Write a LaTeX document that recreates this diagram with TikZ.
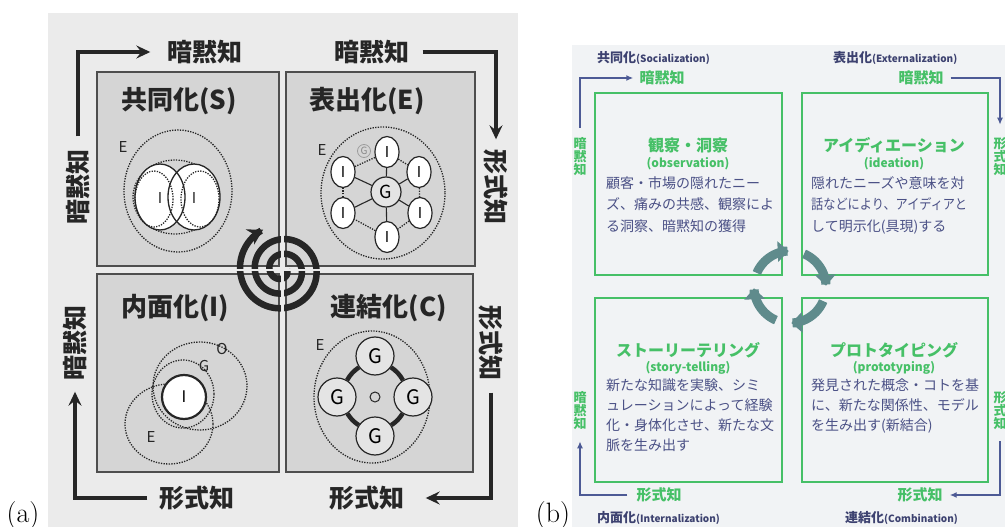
\documentclass[tikz,border=0pt]{standalone}
\usepackage{fontspec}
\newfontfamily\cjk{Noto Sans CJK JP}
\usetikzlibrary{arrows.meta,shapes.geometric}
\definecolor{pagegray}{HTML}{EBEBEB}
\definecolor{boxgray}{HTML}{D5D5D5}
\definecolor{boxline}{HTML}{4E4E4E}
\definecolor{ink}{HTML}{262626}
\definecolor{lightg}{HTML}{E4E4E4}
\definecolor{bpage}{HTML}{F1F3F5}
\definecolor{grn}{HTML}{46C067}
\definecolor{navy}{HTML}{4D5A95}
\definecolor{darknavy}{HTML}{3D4270}
\definecolor{navytext}{HTML}{4B5186}
\definecolor{tealc}{HTML}{5F8B8C}
\tikzset{
 qbox/.style={draw=boxline, line width=1.4pt, fill=boxgray, inner sep=0pt, outer sep=0pt, anchor=north west},
 qtitle/.style={font=\cjk\bfseries\fontsize{26}{28}\selectfont, text=ink, inner sep=0pt},
 klab/.style={font=\cjk\bfseries\fontsize{25}{28}\selectfont, text=ink, inner sep=1pt},
 arrA/.style={draw=ink, line width=3.2pt, line join=miter, -{Stealth[length=14pt,width=13pt,inset=5pt]}},
 dotc/.style={draw=ink, line width=1.3pt, dash pattern=on 1.3pt off 1.3pt},
 solidc/.style={draw=ink, line width=1.3pt},
 small/.style={font=\cjk\fontsize{15}{16}\selectfont, text=ink, inner sep=0pt},
 inode/.style={ellipse, draw=ink, line width=1.2pt, fill=white, minimum width=24pt, minimum height=31pt, inner sep=0pt, font=\cjk\fontsize{15}{16}\selectfont},
 gnode/.style={circle, draw=ink, line width=1.2pt, fill=lightg, minimum size=30pt, inner sep=0pt, font=\cjk\fontsize{18}{18}\selectfont},
 gcnode/.style={circle, draw=ink, line width=1.2pt, fill=lightg, minimum size=38pt, inner sep=0pt, font=\cjk\fontsize{20}{20}\selectfont},
 gbox/.style={draw=grn, line width=2pt, inner sep=0pt, outer sep=0pt, anchor=north west},
 gtitle/.style={font=\cjk\bfseries\fontsize{16}{18}\selectfont, text=grn, inner sep=0pt},
 gsub/.style={font=\cjk\bfseries\fontsize{12}{14}\selectfont, text=grn, inner sep=0pt},
 gbody/.style={font=\cjk\fontsize{14}{21.5}\selectfont, text=navytext, align=left, anchor=north west, inner sep=0pt},
 gbodyb/.style={font=\cjk\fontsize{14}{20}\selectfont, text=navytext, align=left, anchor=north west, inner sep=0pt},
 glab/.style={font=\cjk\bfseries\fontsize{15}{16}\selectfont, text=grn, inner sep=1pt},
 gvert/.style={font=\cjk\bfseries\fontsize{13}{13}\selectfont, text=grn, align=center, inner sep=1pt},
 arrB/.style={draw=navy, line width=2pt, line join=miter, -{Latex[length=7pt,width=6pt]}},
 clab/.style={text=darknavy, inner sep=0pt, anchor=west},
 carr/.style={draw=tealc, line width=9pt, -{Triangle[length=11pt,width=20pt]}},
 plab/.style={font=\fontsize{28}{30}\selectfont, text=black, inner sep=0pt}
}
\begin{document}
\begin{tikzpicture}[x=1pt,y=-1pt]
\useasboundingbox (0,0) rectangle (1005,527);
\fill[white] (0,0) rectangle (1005,527);

% ================= panel (a) =================
\fill[pagegray] (48,13) rectangle (518,527);
\node[qbox, minimum width=182pt, minimum height=194pt] (qS) at (97,72) {};
\node[qbox, minimum width=189pt, minimum height=194pt] (qE) at (286,72) {};
\node[qbox, minimum width=182pt, minimum height=198pt] (qI) at (97,274) {};
\node[qbox, minimum width=187pt, minimum height=198pt] (qC) at (286,274) {};

\node[qtitle] (tS) at (179,101) {共同化(S)};
\node[qtitle] (tE) at (367,101) {表出化(E)};
\node[qtitle] (tI) at (175,308) {内面化(I)};
\node[qtitle] (tC) at (389,308) {連結化(C)};

% --- S: socialization
\draw[dotc] (178,191) ellipse [x radius=54, y radius=61];
\draw[dotc] (175,197) ellipse [x radius=42, y radius=37];
\fill[white] (160,197) ellipse [x radius=25, y radius=33];
\fill[white] (194,197) ellipse [x radius=26, y radius=33];
\draw[solidc] (160,197) ellipse [x radius=25, y radius=33];
\draw[solidc] (194,197) ellipse [x radius=26, y radius=33];
\draw[dotc] (154,199) ellipse [x radius=19, y radius=28];
\draw[dotc] (200,199) ellipse [x radius=19, y radius=28];
\node[small] (sE) at (123,147) {E};
\node[small] (sI1) at (160,198) {I};
\node[small] (sI2) at (194,198) {I};

% --- E: externalization
\draw[dotc] (383,193) ellipse [x radius=62, y radius=66];
\node[gnode] (eG) at (386,192) {G};
\node[inode] (eI1) at (387,152) {I};
\node[inode] (eI2) at (419,172) {I};
\node[inode] (eI3) at (420,213) {I};
\node[inode] (eI4) at (387,237) {I};
\node[inode] (eI5) at (343,213) {I};
\node[inode] (eI6) at (343,172) {I};
\foreach \k in {1,...,6} \draw[solidc, line width=1.1pt] (eG) -- (eI\k);
\draw[dotc] (eI1) -- (eI2); \draw[dotc] (eI2) -- (eI3); \draw[dotc] (eI3) -- (eI4);
\draw[dotc] (eI4) -- (eI5); \draw[dotc] (eI5) -- (eI6); \draw[dotc] (eI6) -- (eI1);
\node[small] (eE) at (322,150) {E};
\node[circle, draw=ink!45, line width=0.8pt, minimum size=13pt, inner sep=0pt, font=\cjk\fontsize{10}{10}\selectfont, text=ink!55] (eg) at (364,151) {G};

% --- I: internalization
\draw[dotc] (200,386) ellipse [x radius=47, y radius=44];
\draw[dotc] (169,424) ellipse [x radius=44, y radius=40];
\draw[dotc] (183,394) ellipse [x radius=31, y radius=34];
\node[circle, draw=ink, line width=2.2pt, fill=white, minimum size=44pt, inner sep=0pt, font=\cjk\fontsize{16}{16}\selectfont] (iI) at (184,397) {I};
\node[small] (iO) at (222,349) {O};
\node[small] (iG) at (204,366) {G};
\node[small] (iE) at (151,437) {E};

% --- C: combination
\draw[dotc] (372,397) ellipse [x radius=58, y radius=66];
\node[gcnode] (cG1) at (375,356) {G};
\node[gcnode] (cG2) at (413,397) {G};
\node[gcnode] (cG3) at (375,436) {G};
\node[gcnode] (cG4) at (337,397) {G};
\node[circle, draw=ink, line width=1pt, minimum size=10pt, inner sep=0pt] (cO) at (375,397) {};
\draw[ink, line width=4.5pt] (cG1) to[bend left=12] (cG2);
\draw[ink, line width=4.5pt] (cG2) to[bend left=12] (cG3);
\draw[ink, line width=4.5pt] (cG3) to[bend left=12] (cG4);
\draw[ink, line width=4.5pt] (cG4) to[bend left=12] (cG1);
\node[small] (cE) at (320,345) {E};

% --- spiral
\draw[ink, line width=6.5pt, -{Stealth[length=15pt,width=17pt]}]
  plot[smooth, domain=0:965, samples=260] ({282+(5+0.041*\x)*cos(\x)},{270+(5+0.041*\x)*sin(\x)});
\begin{scope}
\clip (282,270) circle [radius=55];
\draw[pagegray, line width=2.6pt] (282.5,200) -- (282.5,340);
\draw[pagegray, line width=2.6pt] (210,270) -- (355,270);
\end{scope}

% --- outer arrows (a)
\node[klab] (hT1) at (205,52) {暗黙知};
\node[klab, rotate=90] (vL1) at (78,187) {暗黙知};
\node[klab] (hT2) at (372,52) {暗黙知};
\node[klab, rotate=-90] (vR1) at (496,187) {形式知};
\node[klab, rotate=-90] (vR2) at (491,343) {形式知};
\node[klab] (hB2) at (367,498) {形式知};
\node[klab] (hB1) at (197,498) {形式知};
\node[klab, rotate=90] (vL2) at (75,343) {暗黙知};
\draw[arrA, shorten <=12pt, shorten >=16pt] (vL1.east) |- (hT1.west);
\draw[arrA, shorten <=12pt, shorten >=9pt] (hT2.east) -| (vR1.west);
\draw[arrA, shorten <=11pt, shorten >=20pt] (vR2.east) |- (hB2.east);
\draw[arrA, shorten <=11pt, shorten >=10pt] (hB1.west) -| (vL2.west);

\node[plab] (la) at (23,516) {(a)};

% ================= panel (b) =================
\fill[bpage] (572,45) rectangle (1005,527);
\node[gbox, minimum width=187pt, minimum height=182pt] (bS) at (595,93) {};
\node[gbox, minimum width=186pt, minimum height=182pt] (bE) at (802,93) {};
\node[gbox, minimum width=187pt, minimum height=184pt] (bI) at (595,298) {};
\node[gbox, minimum width=186pt, minimum height=184pt] (bC) at (802,298) {};

\node[gtitle] (bt1) at (688,145) {観察・洞察};
\node[gsub] (bs1) at (688,164) {(observation)};
\node[gbody] (bb1) at (606,176) {顧客・市場の隠れたニー\\ズ、痛みの共感、観察によ\\る洞察、暗黙知の獲得};

\node[gtitle] (bt2) at (894,145) {アイディエーション};
\node[gsub] (bs2) at (894,164) {(ideation)};
\node[gbody] (bb2) at (811,176) {隠れたニーズや意味を対\\\scalebox{0.87}[1]{話などにより、アイディアと}\\して明示化(具現)する};

\node[gtitle] (bt3) at (688,350) {ストーリーテリング};
\node[gsub] (bs3) at (688,368) {(story-telling)};
\node[gbodyb] (bb3) at (606,379) {新たな知識を実験、シミ\\ュレーションによって経験\\化・身体化させ、新たな文\\脈を生み出す};

\node[gtitle] (bt4) at (894,350) {プロトタイピング};
\node[gsub] (bs4) at (894,368) {(prototyping)};
\node[gbodyb] (bb4) at (811,379) {発見された概念・コトを基\\に、新たな関係性、モデル\\を生み出す(新結合)};

% --- cycle arrows (b)
\foreach \a/\b in {203/268, 293/358, 23/88, 113/178}
  \draw[carr] plot[smooth, domain=\a:\b, samples=30] ({790+36*cos(\x)},{287+36*sin(\x)});

% --- corner labels (b)
\node[clab] (cS) at (597,58) {\cjk\bfseries\fontsize{13}{14}\selectfont 共同化\fontsize{10}{12}\selectfont(Socialization)};
\node[clab] (cE2) at (833,58) {\cjk\bfseries\fontsize{13}{14}\selectfont 表出化\fontsize{10}{12}\selectfont(Externalization)};
\node[clab] (cI) at (597,518) {\cjk\bfseries\fontsize{13}{14}\selectfont 内面化\fontsize{10}{12}\selectfont(Internalization)};
\node[clab] (cC) at (845,518) {\cjk\bfseries\fontsize{13}{14}\selectfont 連結化\fontsize{10}{12}\selectfont(Combination)};

% --- outer arrows (b)
\node[glab] (gT1) at (662,78) {暗黙知};
\node[glab] (gT2) at (921,78) {暗黙知};
\node[glab] (gB1) at (659,495) {形式知};
\node[glab] (gB2) at (920,495) {形式知};
\node[gvert] (gL1) at (580,157) {暗\\黙\\知};
\node[gvert] (gR1) at (1000,157) {形\\式\\知};
\node[gvert] (gL2) at (580,411) {暗\\黙\\知};
\node[gvert] (gR2) at (1000,411) {形\\式\\知};
\draw[arrB, shorten <=9pt, shorten >=5pt] (gL1.north) |- (gT1.west);
\draw[arrB, shorten <=6pt, shorten >=12pt] (gT2.east) -| (gR1.north);
\draw[arrB, shorten <=10pt, shorten >=6pt] (gR2.south) |- (gB2.east);
\draw[arrB, shorten <=8pt, shorten >=10pt] (gB1.west) -| (gL2.south);

\node[plab] (lb) at (553,516) {(b)};
\end{tikzpicture}
\end{document}
